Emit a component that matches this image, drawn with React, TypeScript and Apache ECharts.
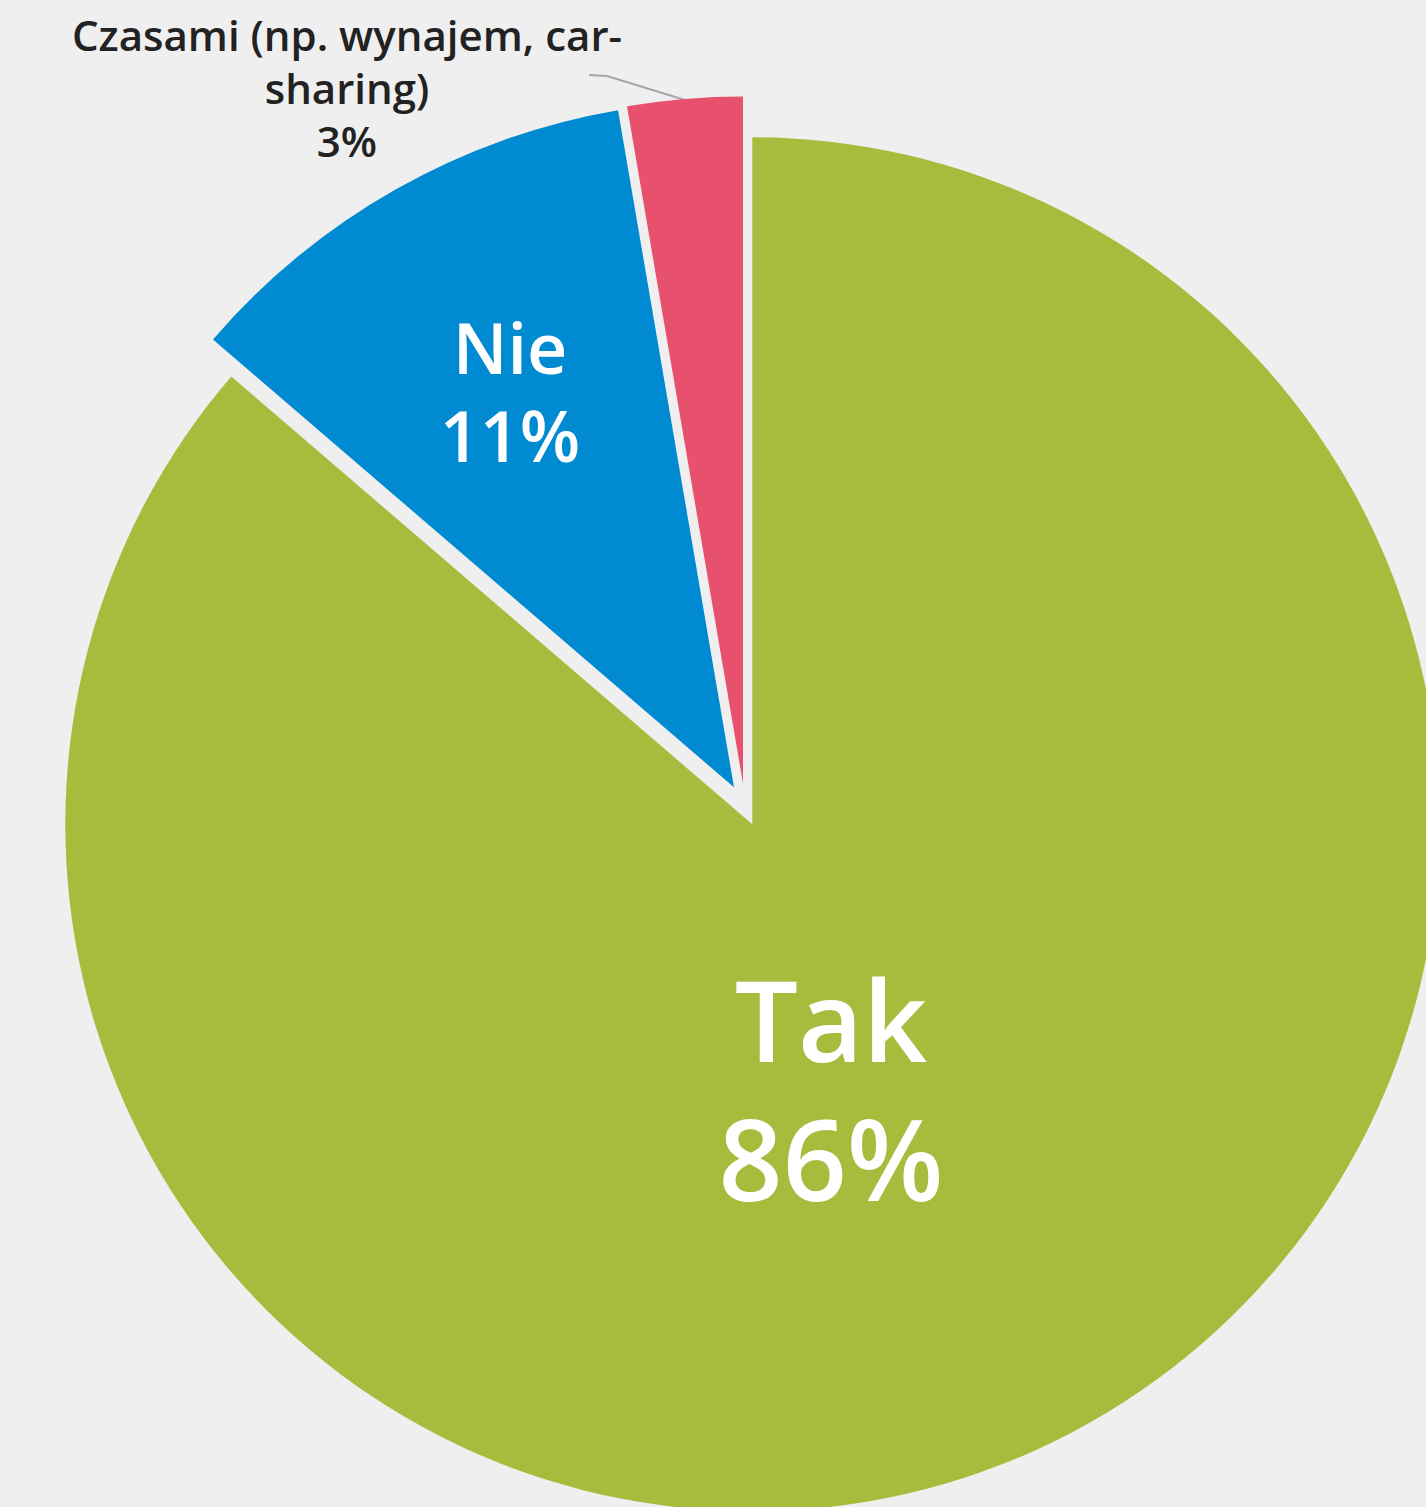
import React, { useEffect, useRef } from 'react';
import * as echarts from 'echarts';

// ---- data ----
const categories: string[] = ['Tak', 'Nie', 'Czasami (np. wynajem, car-sharing)'];
const values: number[] = [86.3, 11.0, 2.7];

// ---- styling / layout ----
const colors: string[] = ['#a9bb3d', '#008ad2', '#e8516d'];
const RADIUS = 687;
// each slice is drawn in its own pie so that it can be pulled out in its own direction
const centers: [number, number][] = [
  [752.3, 824.3],
  [734, 787.3],
  [743, 783.5],
];
const labelPositions = [
  { x: 831, y: 1088 },
  { x: 510, y: 391 },
  { x: 347, y: 87 },
];
const labelStyles = [
  { color: '#ffffff', fontSize: 112, fontWeight: 600, lineHeight: 139 },
  { color: '#ffffff', fontSize: 70, fontWeight: 600, lineHeight: 88 },
  { color: '#222222', fontSize: 42, fontWeight: 600, lineHeight: 53 },
];

export default function App() {
  const ref = useRef<HTMLDivElement>(null);

  useEffect(() => {
    if (!ref.current) return;
    const chart = echarts.init(ref.current, undefined, { renderer: 'svg' });

    const series = categories.map((_, i) => ({
      type: 'pie',
      radius: RADIUS,
      center: centers[i],
      startAngle: 90,
      clockwise: true,
      silent: true,
      avoidLabelOverlap: false,
      emphasis: { disabled: true },
      labelLine: { show: false },
      labelLayout: labelPositions[i],
      data: categories.map((name, j) => ({
        name,
        value: values[j],
        itemStyle: { color: j === i ? colors[j] : 'rgba(0,0,0,0)', borderWidth: 0 },
        label:
          j === i
            ? {
                show: true,
                position: 'inside',
                align: 'center',
                verticalAlign: 'middle',
                fontFamily: '"Open Sans", "Noto Sans", sans-serif',
                ...labelStyles[i],
                formatter: (p: any) =>
                  `${String(p.name).replace('car-', 'car-\n')}\n${Math.round(p.percent)}%`,
              }
            : { show: false },
      })),
    }));

    chart.setOption({
      animation: false,
      backgroundColor: '#efefef',
      series,
      graphic: [
        {
          type: 'polyline',
          silent: true,
          shape: { points: [[589, 75], [607, 76], [685, 100]] },
          style: { stroke: '#a6a6a6', lineWidth: 2, fill: 'none' },
        },
      ],
    });

    return () => chart.dispose();
  }, []);

  return (
    <div
      ref={ref}
      style={{ position: 'fixed', left: 0, top: 0, width: 1426, height: 1507, background: '#efefef' }}
    />
  );
}
